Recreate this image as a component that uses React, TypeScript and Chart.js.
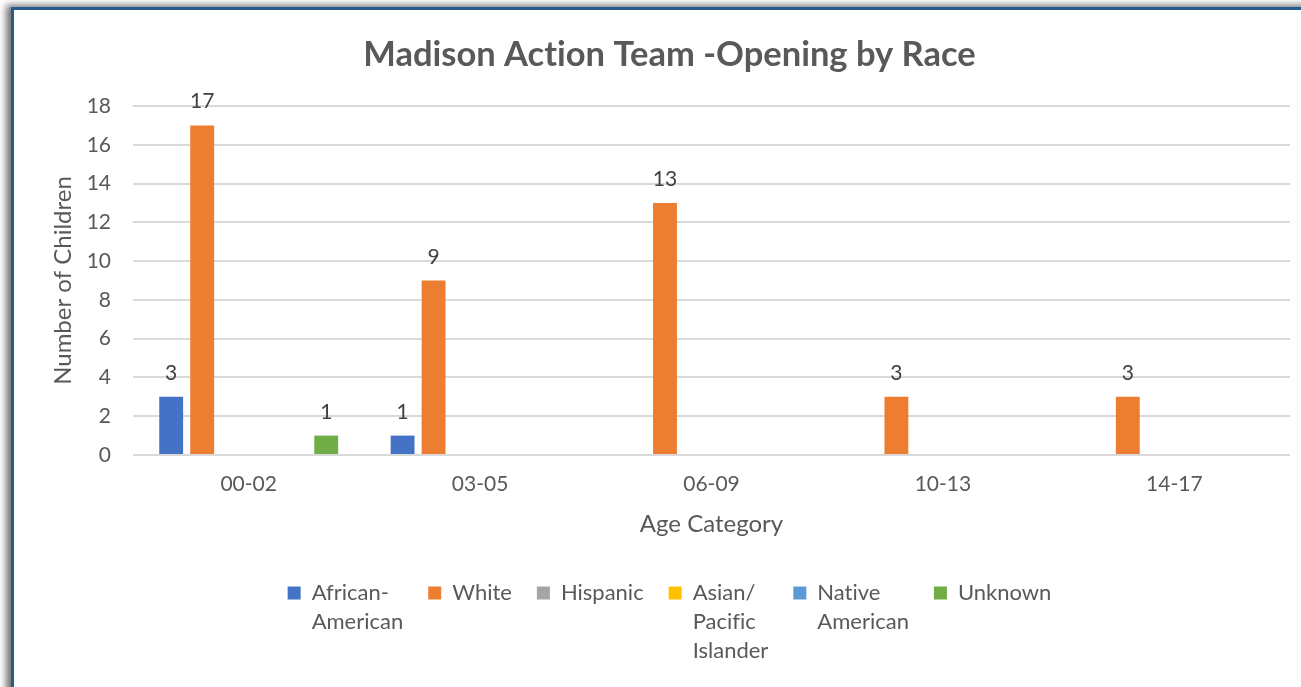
import React, { useEffect, useRef } from 'react';
import { Chart, registerables } from 'chart.js';

Chart.register(...registerables);

const categories = ['00-02', '03-05', '06-09', '10-13', '14-17'];
const seriesNames = ['African-\nAmerican', 'White', 'Hispanic', 'Asian/\nPacific\nIslander', 'Native\nAmerican', 'Unknown'];
const seriesColors = ['#4472C4', '#ED7D31', '#A5A5A5', '#FFC000', '#5B9BD5', '#70AD47'];
const africanAmerican = [3, 1, null, null, null];
const white = [17, 9, 13, 3, 3];
const hispanic = [null, null, null, null, null];
const asianPacificIslander = [null, null, null, null, null];
const nativeAmerican = [null, null, null, null, null];
const unknown = [1, null, null, null, null];
const yMin = 0;
const yMax = 18;
const yStep = 2;

const FONT = 'Lato, "Open Sans", sans-serif';
const TICK_FS = 21;
const AXIS_TITLE_FS = 24;
const LEGEND_FS = 22;
const LEGEND_LH = 1.318;

const dataLabels = {
  id: 'dataLabels',
  afterDatasetsDraw(chart: any) {
    const ctx = chart.ctx;
    ctx.save();
    ctx.font = `${TICK_FS}px ${FONT}`;
    ctx.fillStyle = '#404040';
    ctx.textAlign = 'center';
    ctx.textBaseline = 'alphabetic';
    chart.data.datasets.forEach((ds: any, i: number) => {
      const meta = chart.getDatasetMeta(i);
      meta.data.forEach((bar: any, j: number) => {
        const v = ds.data[j];
        if (v === null || v === undefined) return;
        ctx.fillText(String(v), bar.x, bar.y - 17);
      });
    });
    ctx.restore();
  },
};

// No typographic ligatures (e.g. "ti" in "Action"), like the original.
const noLigatures = {
  id: 'noLigatures',
  beforeDraw(chart: any) {
    const ctx = chart.ctx as any;
    if ('textRendering' in ctx) ctx.textRendering = 'optimizeSpeed';
  },
};

// Make the legend box tall enough for its multi-line labels.
const legendHeightFix = {
  id: 'legendHeightFix',
  beforeLayout(chart: any) {
    const lg = chart.legend;
    if (lg && !lg.__patched) {
      const orig = lg.fit.bind(lg);
      lg.fit = function () {
        orig();
        const maxLines = Math.max(1, ...seriesNames.map((n) => n.split('\n').length));
        this.height += (maxLines - 1) * LEGEND_FS * LEGEND_LH;
      };
      lg.__patched = true;
    }
  },
};

export default function App() {
  const ref = useRef<HTMLCanvasElement>(null);
  useEffect(() => {
    document.body.style.margin = '0';
    const values = [africanAmerican, white, hispanic, asianPacificIslander, nativeAmerican, unknown];
    const chart = new Chart(ref.current as HTMLCanvasElement, {
      type: 'bar',
      data: {
        labels: categories,
        datasets: seriesNames.map((name, i) => ({
          label: name,
          data: values[i] as any,
          backgroundColor: seriesColors[i],
          borderWidth: 0,
          categoryPercentage: 0.804,
          barPercentage: 0.77,
        })),
      },
      options: {
        responsive: false,
        animation: false,
        layout: { padding: { left: 35, right: 28, top: 0, bottom: 15 } },
        plugins: {
          tooltip: { enabled: false },
          title: {
            display: true,
            text: 'Madison Action Team -Opening by Race',
            color: '#595959',
            font: { family: FONT, size: 34.5, weight: 'bold', lineHeight: 1.2 },
            padding: { top: 24, bottom: 30.6 },
          },
          legend: {
            position: 'bottom',
            labels: {
              color: '#595959',
              font: { family: FONT, size: LEGEND_FS, lineHeight: LEGEND_LH },
              boxWidth: 13,
              boxHeight: 13,
              padding: 25,
              generateLabels: (c: any) => {
                const items = (Chart.defaults.plugins.legend.labels as any).generateLabels(c);
                const ctx = c.ctx;
                ctx.save();
                ctx.font = `${LEGEND_FS}px ${FONT}`;
                const out = items.map((it: any) => {
                  const lines: any = String(it.text).split('\n');
                  const longest = lines.reduce((a: string, b: string) =>
                    ctx.measureText(a).width >= ctx.measureText(b).width ? a : b
                  );
                  lines.toString = () => longest;
                  return { ...it, text: lines, lineWidth: 0 };
                });
                ctx.restore();
                return out;
              },
            },
          },
        },
        scales: {
          x: {
            grid: { display: false, drawTicks: false },
            border: { display: false },
            ticks: { color: '#595959', font: { family: FONT, size: TICK_FS, lineHeight: 1.2 }, padding: 16.5 },
            title: {
              display: true,
              text: 'Age Category',
              color: '#595959',
              font: { family: FONT, size: AXIS_TITLE_FS, lineHeight: 1.2 },
              padding: { top: 0, bottom: 18 },
            },
            afterFit: (s: any) => {
              s.height = 102;
            },
          },
          y: {
            min: yMin,
            max: yMax,
            ticks: { stepSize: yStep, color: '#595959', font: { family: FONT, size: TICK_FS }, padding: 22 },
            grid: { color: '#D9D9D9', lineWidth: 2, drawTicks: false },
            border: { display: false },
            title: {
              display: true,
              text: 'Number of Children',
              color: '#595959',
              font: { family: FONT, size: AXIS_TITLE_FS, lineHeight: 1.2 },
              padding: { top: 0, bottom: 0 },
            },
            afterFit: (s: any) => {
              s.width = 84;
            },
          },
        },
      },
      plugins: [noLigatures, dataLabels, legendHeightFix],
    });
    return () => chart.destroy();
  }, []);

  return (
    <div style={{ position: 'fixed', inset: 0, background: '#fff', overflow: 'hidden' }}>
      <div
        style={{
          position: 'absolute',
          left: 11,
          top: 7,
          width: 1320,
          height: 700,
          borderLeft: '3px solid #285A8C',
          borderTop: '3px solid #285A8C',
          boxShadow: '-5px -2px 7px rgba(0,0,0,0.55)',
          background: '#fff',
        }}
      >
        <canvas ref={ref} width={1304} height={677} style={{ display: 'block', width: 1304, height: 677 }} />
      </div>
    </div>
  );
}
